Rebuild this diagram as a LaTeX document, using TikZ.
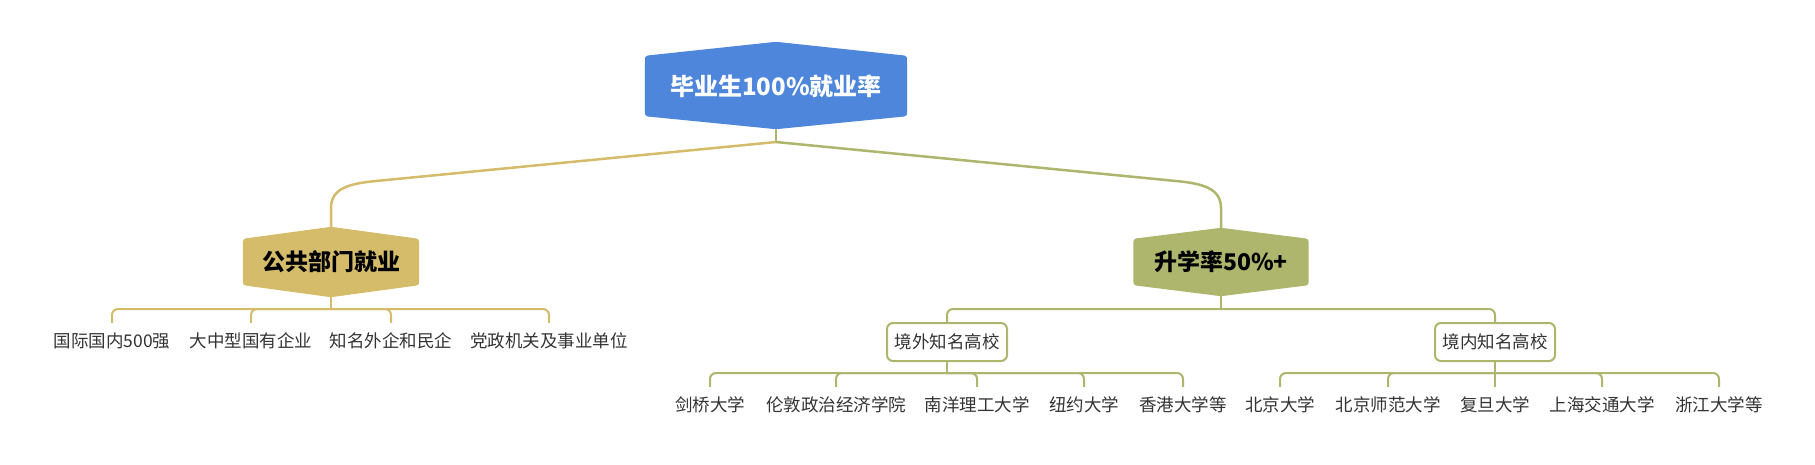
\documentclass[tikz,border=0pt]{standalone}
\usepackage{fontspec}
\newfontfamily\cjk{Noto Sans CJK SC}
\usetikzlibrary{backgrounds}
\definecolor{rootc}{HTML}{4D86DB}
\definecolor{goldc}{HTML}{D5BC6B}
\definecolor{olivec}{HTML}{ADB66C}
\definecolor{txtc}{HTML}{333333}
\newcommand\hexfill[4]{%
  \begin{pgfonlayer}{background}
  \fill[#2, rounded corners=3pt] (#1.north west) -- (#1-t) -- (#1.north east)
     -- (#1.south east) -- (#1-b) -- (#1.south west) -- cycle;
  \end{pgfonlayer}}
\begin{document}
\begin{tikzpicture}[x=1pt, y=-1pt,
  rootnode/.style={inner sep=0pt, minimum width=262pt, minimum height=60pt,
    text=white, font=\cjk\bfseries\fontsize{24}{28}\selectfont},
  midnode/.style={inner sep=0pt, minimum width=176pt, minimum height=46pt,
    text=black, font=\cjk\bfseries\fontsize{23}{27}\selectfont},
  leaf/.style={text=txtc, font=\cjk\fontsize{17.5}{20}\selectfont,
    text height=15pt, text depth=3pt, inner xsep=2pt, inner ysep=9pt},
  subbox/.style={draw=olivec, line width=2pt, fill=white, rounded corners=6pt,
    minimum width=120pt, minimum height=38pt, inner sep=0pt, text=txtc,
    font=\cjk\fontsize{17.5}{20}\selectfont},
  mainline/.style={line width=2.5pt},
  brline/.style={line width=2pt, rounded corners=6pt}
]
\useasboundingbox (0,0) rectangle (1815,464);

% main nodes
\node[rootnode] (root) at (776,86) {毕业生100\%就业率};
\coordinate (root-t) at ([yshift=14pt]root.north);
\coordinate (root-b) at ([yshift=-13pt]root.south);
\hexfill{root}{rootc}{}{}

\node[midnode] (pub) at (331,262) {公共部门就业};
\coordinate (pub-t) at ([yshift=12pt]pub.north);
\coordinate (pub-b) at ([yshift=-12pt]pub.south);
\hexfill{pub}{goldc}{}{}

\node[midnode, minimum width=175pt] (adv) at (1221,262) {升学率50\%+};
\coordinate (adv-t) at ([yshift=11pt]adv.north);
\coordinate (adv-b) at ([yshift=-11pt]adv.south);
\hexfill{adv}{olivec}{}{}

% root connectors
\coordinate (J) at (776,142);
\draw[mainline, olivec] (root-b) -- (J);
\draw[mainline, goldc] (J) -- (376,181) .. controls (350,183.5) and (331,188) .. (331,208) -- (pub-t);
\draw[mainline, olivec] (J) -- (1176,181) .. controls (1202,183.5) and (1221,188) .. (1221,208) -- (adv-t);

% left leaves
\node[leaf] (l1) at (112,341) {国际国内500强};
\node[leaf] (l2) at (251,341) {大中型国有企业};
\node[leaf] (l3) at (391,341) {知名外企和民企};
\node[leaf] (l4) at (549,341) {党政机关及事业单位};
\coordinate (pubJ) at (331,309);
\draw[brline, goldc] (pub-b) -- (pubJ);
\foreach \n in {l1,l2,l3,l4} \draw[brline, goldc] (pubJ) -| (\n.north);

% right sub boxes
\node[subbox] (s1) at (947,342) {境外知名高校};
\node[subbox] (s2) at (1495,342) {境内知名高校};
\coordinate (advJ) at (1221,309);
\draw[brline, olivec] (adv-b) -- (advJ);
\draw[brline, olivec] (advJ) -| (s1.north);
\draw[brline, olivec] (advJ) -| (s2.north);

% overseas leaves
\node[leaf] (a1) at (710,405) {剑桥大学};
\node[leaf] (a2) at (836,405) {伦敦政治经济学院};
\node[leaf] (a3) at (977,405) {南洋理工大学};
\node[leaf] (a4) at (1084,405) {纽约大学};
\node[leaf] (a5) at (1183,405) {香港大学等};
\coordinate (s1J) at (947,373);
\draw[brline, olivec] (s1.south) -- (s1J);
\foreach \n in {a1,a2,a3,a4,a5} \draw[brline, olivec] (s1J) -| (\n.north);

% domestic leaves
\node[leaf] (b1) at (1280,405) {北京大学};
\node[leaf] (b2) at (1388,405) {北京师范大学};
\node[leaf] (b3) at (1495,405) {复旦大学};
\node[leaf] (b4) at (1602,405) {上海交通大学};
\node[leaf] (b5) at (1719,405) {浙江大学等};
\coordinate (s2J) at (1495,373);
\draw[brline, olivec] (s2.south) -- (s2J);
\draw[brline, olivec] (s2J) -- (b3.north);
\foreach \n in {b1,b2,b4,b5} \draw[brline, olivec] (s2J) -| (\n.north);
\end{tikzpicture}
\end{document}
